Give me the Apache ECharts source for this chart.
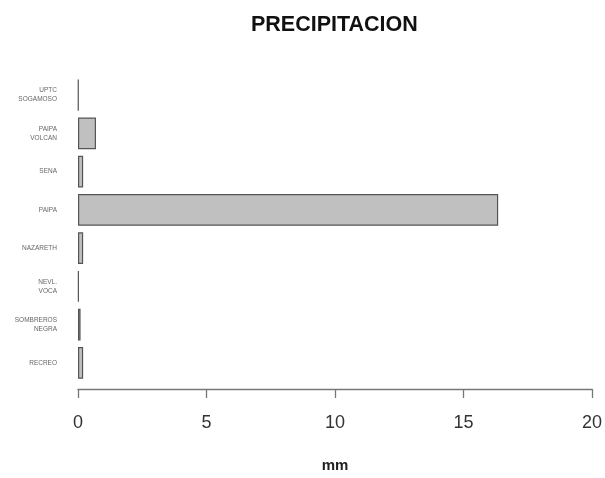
<!DOCTYPE html>
<html>
<head>
<meta charset="utf-8">
<script src="https://cdn.jsdelivr.net/npm/echarts@6/dist/echarts.min.js"></script>
<style>html,body{margin:0;padding:0;background:#fff;}#c{width:605px;height:478px;}</style>
</head>
<body>
<div id="c"></div>
<script>
const stations = ["UPTC\nSOGAMOSO", "PAIPA\nVOLCAN", "SENA", "PAIPA", "NAZARETH", "NEVL.\nVOCA", "SOMBREROS\nNEGRA", "RECREO"];
const precipitation = [0.02, 0.7, 0.2, 16.35, 0.2, 0.03, 0.1, 0.2];
const xTicks = [0, 5, 10, 15, 20];

const chart = echarts.init(document.getElementById('c'), null, {renderer: 'canvas'});
chart.setOption({
  animation: false,
  backgroundColor: '#fff',
  title: {
    text: 'PRECIPITACION',
    left: 246, top: 9,
    textStyle: {fontFamily: 'Liberation Sans, Arial', fontWeight: 'bold', fontSize: 21.5, color: '#111'}
  },
  grid: {left: 78, right: 11, top: 76, bottom: 92},
  xAxis: {
    type: 'value', min: xTicks[0], max: xTicks[xTicks.length - 1], interval: 5,
    offset: 7,
    axisLine: {show: true, lineStyle: {color: '#777', width: 1.3}},
    axisTick: {show: true, length: 9, lineStyle: {color: '#777', width: 1.3}},
    splitLine: {show: false},
    axisLabel: {fontFamily: 'Liberation Sans, Arial', fontSize: 18, color: '#333', margin: 25},
    name: 'mm', nameLocation: 'middle', nameGap: 69,
    nameTextStyle: {fontFamily: 'Liberation Sans, Arial', fontWeight: 'bold', fontSize: 15, color: '#222'}
  },
  yAxis: {
    type: 'category', data: stations, inverse: true,
    axisLine: {show: false}, axisTick: {show: false},
    axisLabel: {fontFamily: 'Liberation Sans, Arial', fontSize: 6.5, color: '#666', margin: 21, lineHeight: 9}
  },
  series: [{
    type: 'bar', data: precipitation,
    barCategoryGap: '17%',
    itemStyle: {color: '#c0c0c0', borderColor: '#555', borderWidth: 1.2}
  }]
});
</script>
</body>
</html>
